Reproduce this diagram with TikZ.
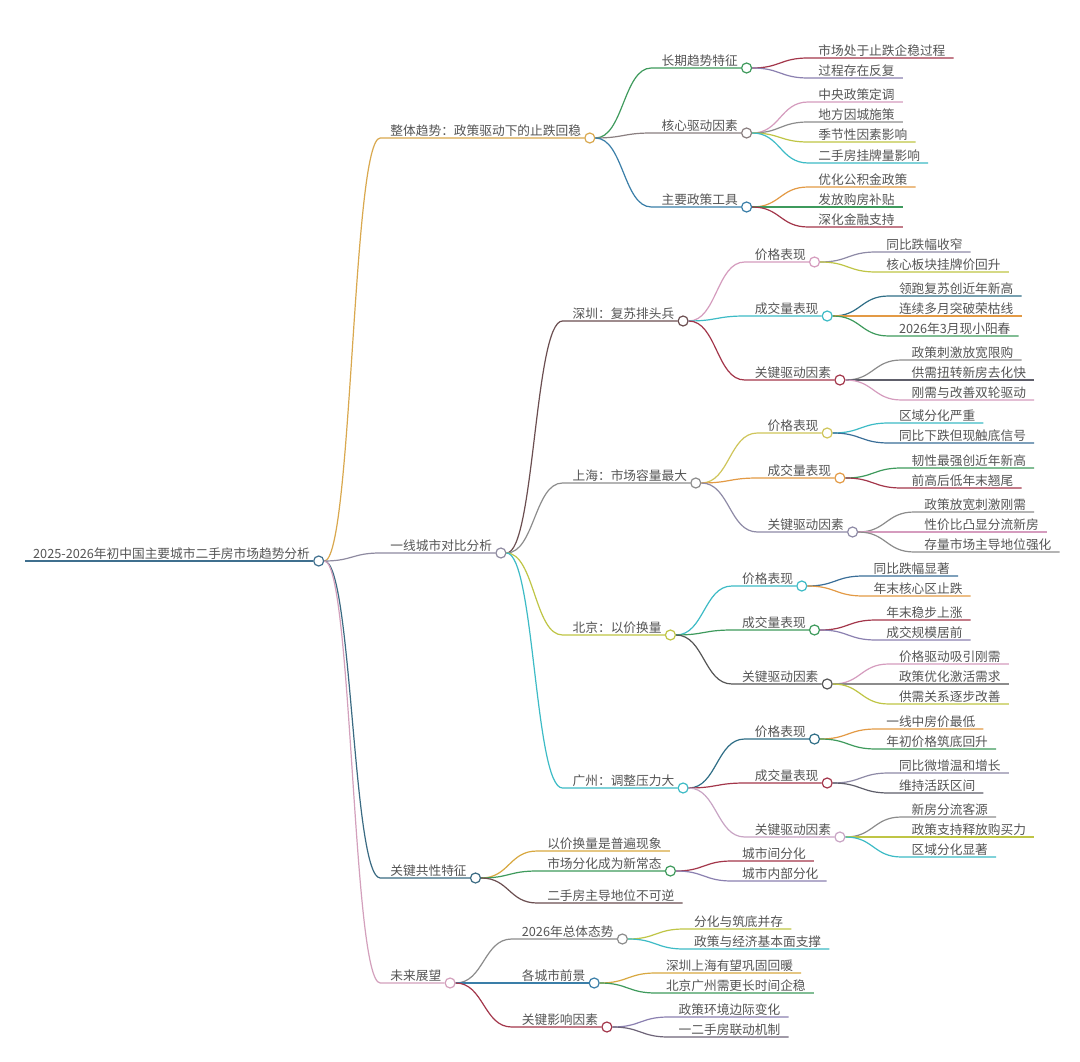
\documentclass[tikz,border=0pt]{standalone}
\usepackage{fontspec}
\newfontfamily\cjk{Noto Sans CJK SC}
\usetikzlibrary{calc}
\definecolor{txt}{HTML}{555555}
\definecolor{cRoot}{HTML}{3F6F8E}
\definecolor{cA}{HTML}{D9A84E}
\definecolor{cB}{HTML}{8E8AA0}
\definecolor{cC}{HTML}{3A6A82}
\definecolor{cD}{HTML}{D3A0BC}
\definecolor{green}{HTML}{3E9A5C}
\definecolor{grayb}{HTML}{8A7F80}
\definecolor{blue}{HTML}{3A7EA8}
\definecolor{darkred}{HTML}{A3364A}
\definecolor{purple}{HTML}{8B80B0}
\definecolor{pink}{HTML}{D59CBE}
\definecolor{gray}{HTML}{8C8C8C}
\definecolor{yg}{HTML}{BFC545}
\definecolor{teal}{HTML}{3DBBC6}
\definecolor{orange}{HTML}{E39A45}
\definecolor{darkteal}{HTML}{2F6E86}
\definecolor{brown}{HTML}{6B4E50}
\definecolor{dkgray}{HTML}{5E5E6A}
\definecolor{yellow}{HTML}{CFC55A}
\definecolor{gpurple}{HTML}{8E8AA6}
\definecolor{darkblue}{HTML}{3A6E98}
\definecolor{lavender}{HTML}{C8A4C4}
\definecolor{gold}{HTML}{D8A840}
\definecolor{dkpurple}{HTML}{6E6478}
\definecolor{dark}{HTML}{555555}
\tikzset{
  mmtext/.style={font=\cjk\fontsize{12.7}{14}\selectfont, text=txt, inner ysep=2.6pt,
    text depth=0pt, text height=9pt, inner xsep=0pt, anchor=south west},
  mmline/.style={line width=1.2pt},
  mmcirc/.style={circle, fill=white, line width=1.2pt, minimum size=10pt, inner sep=0pt, anchor=west},
}
\newcommand\mmnode[5]{%
  \path (#2-o.east) ++(56,0) coordinate (#1-p);
  \coordinate (#1-y) at (0,#3);
  \coordinate (#1-s) at (#1-p |- #1-y);
  \node[mmtext] (#1) at ([xshift=10pt]#1-s) {#5};
  \draw[mmline,draw=#4] (#2-o.east) .. controls +(28,0) and +(-28,0) .. (#1-s) -- ([xshift=3pt]#1.south east);
  \node[mmcirc,draw=#4] (#1-o) at ([xshift=3pt]#1.south east) {};}
\newcommand\mmleaf[5]{%
  \path (#2-o.east) ++(56,0) coordinate (#1-p);
  \coordinate (#1-y) at (0,#3);
  \coordinate (#1-s) at (#1-p |- #1-y);
  \node[mmtext] (#1) at ([xshift=10pt]#1-s) {#5};
  \draw[mmline,draw=#4] (#2-o.east) .. controls +(28,0) and +(-28,0) .. (#1-s) -- ([xshift=8pt]#1.south east);}
\begin{document}
\begin{tikzpicture}[x=1pt,y=-1pt]
\fill[white] (0,0) rectangle (1080,1062);
\useasboundingbox (0,0) rectangle (1080,1062);
% root
\coordinate (R-s) at (25,561);
\node[mmtext] (R) at ([xshift=8pt]R-s) {2025-2026年初中国主要城市二手房市场趋势分析};
\draw[line width=1.8pt,cRoot] (R-s) -- ([xshift=3pt]R.south east);
\node[mmcirc,draw=cRoot] (R-o) at ([xshift=3pt]R.south east) {};
% level 1
\mmnode{A}{R}{138}{cA}{整体趋势：政策驱动下的止跌回稳}
\mmnode{B}{R}{553}{cB}{一线城市对比分析}
\mmnode{C}{R}{878}{cC}{关键共性特征}
\mmnode{D}{R}{983}{cD}{未来展望}
% A
\mmnode{A1}{A}{68}{green}{长期趋势特征}
\mmnode{A2}{A}{133}{grayb}{核心驱动因素}
\mmnode{A3}{A}{207}{blue}{主要政策工具}
\mmleaf{A11}{A1}{58}{darkred}{市场处于止跌企稳过程}
\mmleaf{A12}{A1}{78}{purple}{过程存在反复}
\mmleaf{A21}{A2}{102}{pink}{中央政策定调}
\mmleaf{A22}{A2}{122}{gray}{地方因城施策}
\mmleaf{A23}{A2}{142}{yg}{季节性因素影响}
\mmleaf{A24}{A2}{163}{teal}{二手房挂牌量影响}
\mmleaf{A31}{A3}{187}{orange}{优化公积金政策}
\mmleaf{A32}{A3}{207}{green}{发放购房补贴}
\mmleaf{A33}{A3}{227}{darkred}{深化金融支持}
% B cities
\mmnode{SZ}{B}{321}{brown}{深圳：复苏排头兵}
\mmnode{SH}{B}{483}{gray}{上海：市场容量最大}
\mmnode{BJ}{B}{635}{yg}{北京：以价换量}
\mmnode{GZ}{B}{788}{teal}{广州：调整压力大}
% Shenzhen
\mmnode{SZ1}{SZ}{262}{pink}{价格表现}
\mmnode{SZ2}{SZ}{316}{teal}{成交量表现}
\mmnode{SZ3}{SZ}{380}{darkred}{关键驱动因素}
\mmleaf{SZ11}{SZ1}{252}{gpurple}{同比跌幅收窄}
\mmleaf{SZ12}{SZ1}{272}{yg}{核心板块挂牌价回升}
\mmleaf{SZ21}{SZ2}{296}{darkteal}{领跑复苏创近年新高}
\mmleaf{SZ22}{SZ2}{316}{orange}{连续多月突破荣枯线}
\mmleaf{SZ23}{SZ2}{336}{green}{2026年3月现小阳春}
\mmleaf{SZ31}{SZ3}{360}{gray}{政策刺激放宽限购}
\mmleaf{SZ32}{SZ3}{380}{dkgray}{供需扭转新房去化快}
\mmleaf{SZ33}{SZ3}{400}{pink}{刚需与改善双轮驱动}
% Shanghai
\mmnode{SH1}{SH}{433}{yellow}{价格表现}
\mmnode{SH2}{SH}{478}{orange}{成交量表现}
\mmnode{SH3}{SH}{532}{gpurple}{关键驱动因素}
\mmleaf{SH11}{SH1}{423}{teal}{区域分化严重}
\mmleaf{SH12}{SH1}{443}{darkblue}{同比下跌但现触底信号}
\mmleaf{SH21}{SH2}{468}{green}{韧性最强创近年新高}
\mmleaf{SH22}{SH2}{488}{darkred}{前高后低年末翘尾}
\mmleaf{SH31}{SH3}{512}{gray}{政策放宽刺激刚需}
\mmleaf{SH32}{SH3}{532}{pink}{性价比凸显分流新房}
\mmleaf{SH33}{SH3}{552}{gray}{存量市场主导地位强化}
% Beijing
\mmnode{BJ1}{BJ}{586}{teal}{价格表现}
\mmnode{BJ2}{BJ}{630}{green}{成交量表现}
\mmnode{BJ3}{BJ}{684}{dark}{关键驱动因素}
\mmleaf{BJ11}{BJ1}{576}{darkblue}{同比跌幅显著}
\mmleaf{BJ12}{BJ1}{596}{orange}{年末核心区止跌}
\mmleaf{BJ21}{BJ2}{620}{darkred}{年末稳步上涨}
\mmleaf{BJ22}{BJ2}{640}{purple}{成交规模居前}
\mmleaf{BJ31}{BJ3}{664}{pink}{价格驱动吸引刚需}
\mmleaf{BJ32}{BJ3}{684}{gray}{政策优化激活需求}
\mmleaf{BJ33}{BJ3}{704}{yg}{供需关系逐步改善}
% Guangzhou
\mmnode{GZ1}{GZ}{739}{darkteal}{价格表现}
\mmnode{GZ2}{GZ}{783}{darkred}{成交量表现}
\mmnode{GZ3}{GZ}{837}{lavender}{关键驱动因素}
\mmleaf{GZ11}{GZ1}{729}{orange}{一线中房价最低}
\mmleaf{GZ12}{GZ1}{749}{green}{年初价格筑底回升}
\mmleaf{GZ21}{GZ2}{773}{gpurple}{同比微增温和增长}
\mmleaf{GZ22}{GZ2}{793}{dkgray}{维持活跃区间}
\mmleaf{GZ31}{GZ3}{817}{gray}{新房分流客源}
\mmleaf{GZ32}{GZ3}{837}{yg}{政策支持释放购买力}
\mmleaf{GZ33}{GZ3}{857}{teal}{区域分化显著}
% C
\mmleaf{C1}{C}{851}{gold}{以价换量是普遍现象}
\mmnode{C2}{C}{871}{green}{市场分化成为新常态}
\mmleaf{C3}{C}{903}{brown}{二手房主导地位不可逆}
\mmleaf{C21}{C2}{861}{darkred}{城市间分化}
\mmleaf{C22}{C2}{881}{purple}{城市内部分化}
% D
\mmnode{D1}{D}{939}{gray}{2026年总体态势}
\mmnode{D2}{D}{983}{blue}{各城市前景}
\mmnode{D3}{D}{1027}{darkred}{关键影响因素}
\mmleaf{D11}{D1}{929}{yg}{分化与筑底并存}
\mmleaf{D12}{D1}{949}{teal}{政策与经济基本面支撑}
\mmleaf{D21}{D2}{973}{gold}{深圳上海有望巩固回暖}
\mmleaf{D22}{D2}{993}{green}{北京广州需更长时间企稳}
\mmleaf{D31}{D3}{1017}{purple}{政策环境边际变化}
\mmleaf{D32}{D3}{1037}{dkpurple}{一二手房联动机制}
\end{tikzpicture}
\end{document}
